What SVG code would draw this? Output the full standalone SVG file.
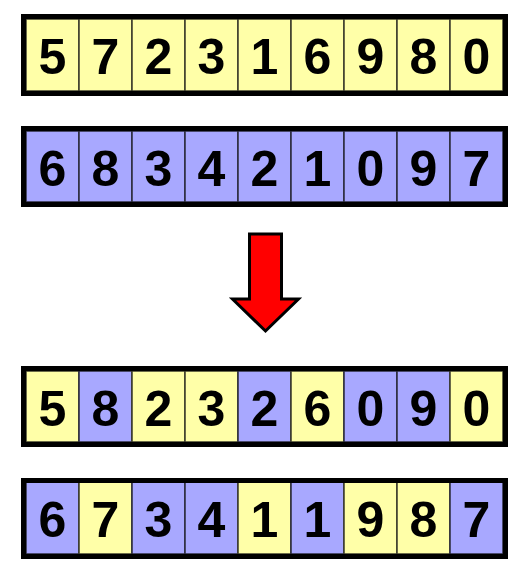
<svg xmlns="http://www.w3.org/2000/svg" width="522" height="574" viewBox="0 0 522 574">
<style>
.y{fill:#FFFFA8;stroke:#3a3a2a;stroke-width:1.5}
.b{fill:#A8A8FF;stroke:#2a2a3a;stroke-width:1.5}
.frame{fill:none;stroke:#000;stroke-width:5}
text{font-family:"Liberation Sans",Arial,sans-serif;font-weight:bold;font-size:50px;text-anchor:middle;fill:#000}
</style>
<rect width="522" height="574" fill="#fff"/>
<g id="row1">
<rect class="y" x="26" y="19" width="53" height="72"/><rect class="y" x="79" y="19" width="53" height="72"/><rect class="y" x="132" y="19" width="53" height="72"/><rect class="y" x="185" y="19" width="53" height="72"/><rect class="y" x="238" y="19" width="53" height="72"/><rect class="y" x="291" y="19" width="53" height="72"/><rect class="y" x="344" y="19" width="53" height="72"/><rect class="y" x="397" y="19" width="53" height="72"/><rect class="y" x="450" y="19" width="53" height="72"/>
<rect class="frame" x="23.5" y="16.5" width="482" height="77"/>
<text x="52.5" y="74">5</text><text x="105.5" y="74">7</text><text x="158.5" y="74">2</text><text x="211.5" y="74">3</text><text x="264.5" y="74">1</text><text x="317.5" y="74">6</text><text x="370.5" y="74">9</text><text x="423.5" y="74">8</text><text x="476.5" y="74">0</text>
</g>
<g id="row2">
<rect class="b" x="26" y="131" width="53" height="71"/><rect class="b" x="79" y="131" width="53" height="71"/><rect class="b" x="132" y="131" width="53" height="71"/><rect class="b" x="185" y="131" width="53" height="71"/><rect class="b" x="238" y="131" width="53" height="71"/><rect class="b" x="291" y="131" width="53" height="71"/><rect class="b" x="344" y="131" width="53" height="71"/><rect class="b" x="397" y="131" width="53" height="71"/><rect class="b" x="450" y="131" width="53" height="71"/>
<rect class="frame" x="23.5" y="128.5" width="482" height="76"/>
<text x="52.5" y="186">6</text><text x="105.5" y="186">8</text><text x="158.5" y="186">3</text><text x="211.5" y="186">4</text><text x="264.5" y="186">2</text><text x="317.5" y="186">1</text><text x="370.5" y="186">0</text><text x="423.5" y="186">9</text><text x="476.5" y="186">7</text>
</g>
<g id="row3">
<rect class="y" x="26" y="371" width="53" height="71"/><rect class="b" x="79" y="371" width="53" height="71"/><rect class="y" x="132" y="371" width="53" height="71"/><rect class="y" x="185" y="371" width="53" height="71"/><rect class="b" x="238" y="371" width="53" height="71"/><rect class="y" x="291" y="371" width="53" height="71"/><rect class="b" x="344" y="371" width="53" height="71"/><rect class="b" x="397" y="371" width="53" height="71"/><rect class="y" x="450" y="371" width="53" height="71"/>
<rect class="frame" x="23.5" y="368.5" width="482" height="76"/>
<text x="52.5" y="426">5</text><text x="105.5" y="426">8</text><text x="158.5" y="426">2</text><text x="211.5" y="426">3</text><text x="264.5" y="426">2</text><text x="317.5" y="426">6</text><text x="370.5" y="426">0</text><text x="423.5" y="426">9</text><text x="476.5" y="426">0</text>
</g>
<g id="row4">
<rect class="b" x="26" y="482" width="53" height="72"/><rect class="y" x="79" y="482" width="53" height="72"/><rect class="b" x="132" y="482" width="53" height="72"/><rect class="b" x="185" y="482" width="53" height="72"/><rect class="y" x="238" y="482" width="53" height="72"/><rect class="b" x="291" y="482" width="53" height="72"/><rect class="y" x="344" y="482" width="53" height="72"/><rect class="y" x="397" y="482" width="53" height="72"/><rect class="b" x="450" y="482" width="53" height="72"/>
<rect class="frame" x="23.5" y="480.5" width="482" height="76"/>
<text x="52.5" y="537">6</text><text x="105.5" y="537">7</text><text x="158.5" y="537">3</text><text x="211.5" y="537">4</text><text x="264.5" y="537">1</text><text x="317.5" y="537">1</text><text x="370.5" y="537">9</text><text x="423.5" y="537">8</text><text x="476.5" y="537">7</text>
</g>
<g id="connectors">
<path d="M249.5,234 L281.5,234 L281.5,299 L298.5,299 L265.5,331 L232.5,299 L249.5,299 Z" fill="#FF0000" stroke="#000" stroke-width="3"/>
</g>
</svg>
